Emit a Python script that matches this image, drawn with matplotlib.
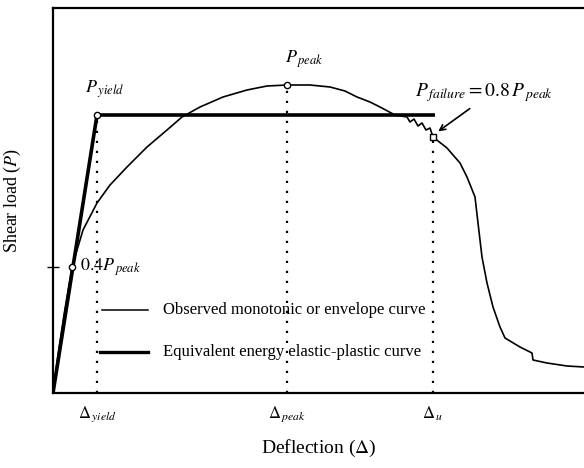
import numpy as np
import matplotlib.pyplot as plt

plt.rcParams['font.family'] = 'Liberation Serif'
plt.rcParams['mathtext.fontset'] = 'stix'

# observed monotonic / envelope curve (arbitrary units)
obs_x = [0, 5, 11, 19, 30, 44, 57, 74, 94, 114, 129, 147, 170, 194, 214, 234, 257, 277,
         292, 304, 317, 327, 342, 354, 357, 361, 365, 369, 373, 377, 380, 394, 407, 414,
         422, 425, 429, 434, 440, 447, 452, 467, 479, 480, 494, 514, 531]
obs_y = [0, 38, 78, 126, 163, 190, 208, 226, 246, 263, 276, 286, 296, 303, 307, 308, 308, 306,
         302, 296, 291, 286, 278, 276, 271, 274, 267, 270, 263, 265, 256, 245, 230, 216,
         196, 170, 136, 110, 86, 66, 55, 46, 40, 33, 30, 27, 26]

# equivalent energy elastic-plastic curve
ep_x = [0, 44, 382]
ep_y = [0, 278, 278]

d_yield, p_yield = 44, 278
d_peak, p_peak = 234, 308
d_u, p_fail = 380, 256
d_04, p_04 = 19, 126

fig = plt.figure(figsize=(5.84, 4.68), dpi=100)
ax = fig.add_axes([53 / 584, 75 / 468, 531 / 584, 385 / 468])

ax.plot(obs_x, obs_y, color='black', lw=1.2)
ax.plot(ep_x, ep_y, color='black', lw=2.6, solid_capstyle='butt')

# dotted guides
for d, p in [(d_yield, p_yield), (d_peak, p_peak), (d_u, p_fail)]:
    ax.plot([d, d], [0, p], color='black', lw=1.6, ls=(0, (1, 3.5)))

ax.plot([d_yield, d_peak, d_04], [p_yield, p_peak, p_04], 'o', ms=4.5,
        mfc='white', mec='black', mew=1)
ax.plot([d_u], [p_fail], 's', ms=4, mfc='white', mec='black', mew=1)

ax.text(32, 300, r'$P_{\,yield}$', fontsize=13)
ax.text(232, 330, r'$P_{\,peak}$', fontsize=13)
ax.text(362, 297, r'$P_{\,failure} = 0.8\,P_{\,peak}$', fontsize=14)
ax.annotate('', xy=(d_u + 3, p_fail + 4), xytext=(419, 286),
            arrowprops=dict(arrowstyle='->', color='black', lw=1.2))
ax.text(27, 122, r'$0.4P_{\,peak}$', fontsize=13)

# legend drawn by hand
ax.plot([49, 95], [83, 83], color='black', lw=1.1)
ax.text(110, 83, 'Observed monotonic or envelope curve', fontsize=12, va='center')
ax.plot([47, 95], [41, 41], color='black', lw=2.4)
ax.text(110, 41, 'Equivalent energy elastic-plastic curve', fontsize=12, va='center')

ax.set_xlim(0, 531)
ax.set_ylim(0, 385)
ax.set_xticks([d_yield, d_peak, d_u])
ax.set_xticklabels([r'$\Delta_{\,yield}$', r'$\Delta_{\,peak}$', r'$\Delta_{\,u}$'], fontsize=12)
ax.tick_params(axis='x', length=0, pad=8)
ax.set_yticks([p_04])
ax.set_yticklabels([])
ax.tick_params(axis='y', direction='inout', length=8, width=1)
for s in ['left', 'bottom', 'top']:
    ax.spines[s].set_linewidth(1.6)
ax.spines['right'].set_visible(False)

ax.set_xlabel(r'Deflection ($\Delta$)', fontsize=14, labelpad=10)
ax.set_ylabel(r'Shear load ($P$)', fontsize=13, labelpad=14)

fig.savefig('out.png', dpi=100)
